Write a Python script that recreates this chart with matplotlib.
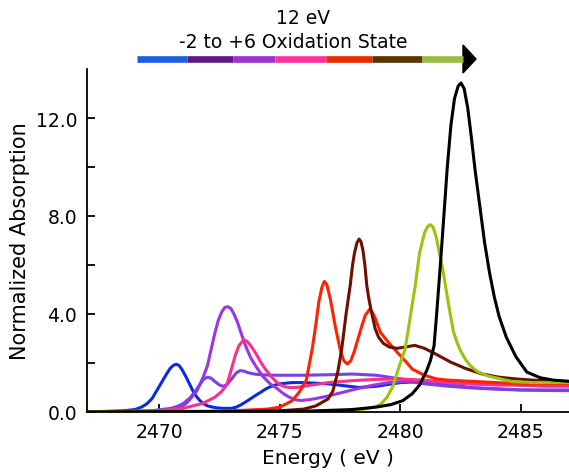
import numpy as np
import matplotlib.pyplot as plt
from matplotlib.patches import Polygon
from matplotlib.lines import Line2D

# spectra (energy in eV, normalized absorption)
blue_e = [2467, 2468.5, 2469.0, 2469.3, 2469.5, 2469.7, 2469.85, 2470.0, 2470.15, 2470.3, 2470.45,
          2470.58, 2470.7, 2470.82, 2470.95, 2471.1, 2471.25, 2471.4, 2471.55, 2471.7, 2471.85,
          2472.0, 2472.3, 2472.6, 2473.0, 2473.2, 2473.4, 2473.6, 2473.8, 2474.0, 2474.2, 2474.4,
          2474.6, 2474.8, 2475.0, 2475.5, 2476.0, 2477.0, 2478.3, 2479.0, 2480.0, 2481.0, 2482.0,
          2483.0, 2484.0, 2485.0, 2486.0, 2487.0]
blue_v = [0.0, 0.05, 0.1, 0.22, 0.35, 0.55, 0.8, 1.05, 1.3, 1.55, 1.78,
          1.9, 1.95, 1.9, 1.72, 1.45, 1.15, 0.85, 0.62, 0.45, 0.33,
          0.25, 0.18, 0.15, 0.15, 0.2, 0.3, 0.42, 0.55, 0.68, 0.8, 0.93,
          1.03, 1.1, 1.15, 1.2, 1.2, 1.15, 1.0, 1.05, 1.2, 1.25, 1.2,
          1.15, 1.15, 1.1, 1.1, 1.1]

purple_e = [2467, 2469, 2470, 2470.5, 2470.9, 2471.15, 2471.4, 2471.55, 2471.7, 2471.85, 2472.0,
            2472.15, 2472.3, 2472.45, 2472.6, 2472.72, 2472.85, 2472.97, 2473.1, 2473.25, 2473.4,
            2473.6, 2473.8, 2474.05, 2474.3, 2474.6, 2474.9, 2475.15, 2475.4, 2475.65, 2475.9,
            2476.2, 2476.5, 2477.0, 2477.4, 2478.0, 2478.75, 2479.5, 2480.3, 2481, 2482, 2483,
            2484, 2485, 2486, 2487]
purple_v = [0.0, 0.03, 0.06, 0.1, 0.2, 0.38, 0.67, 0.85, 1.15, 1.5, 1.9,
            2.55, 3.2, 3.75, 4.1, 4.27, 4.3, 4.22, 4.0, 3.65, 3.2,
            2.65, 2.2, 1.8, 1.45, 1.15, 0.95, 0.75, 0.6, 0.5, 0.47,
            0.5, 0.55, 0.65, 0.75, 0.9, 1.07, 1.2, 1.25, 1.15, 1.05, 0.98,
            0.93, 0.9, 0.88, 0.87]

violet_e = [2467, 2469.5, 2470.5, 2470.8, 2471.0, 2471.25, 2471.5, 2471.7, 2471.85, 2472.0, 2472.15,
            2472.3, 2472.5, 2472.65, 2472.8, 2473.0, 2473.2, 2473.35, 2473.5, 2473.7, 2474.0,
            2474.4, 2475, 2476, 2477, 2478, 2479, 2480, 2481, 2482, 2483, 2484, 2485, 2486, 2487]
violet_v = [0.0, 0.03, 0.15, 0.25, 0.35, 0.55, 0.85, 1.15, 1.35, 1.42, 1.38,
            1.25, 1.1, 1.05, 1.12, 1.35, 1.6, 1.69, 1.67, 1.6, 1.54,
            1.51, 1.5, 1.5, 1.52, 1.55, 1.5, 1.35, 1.2, 1.1, 1.0, 0.95, 0.9, 0.9, 0.9]

pink_e = [2467, 2470, 2471, 2471.8, 2472.3, 2472.55, 2472.8, 2472.95, 2473.15, 2473.3, 2473.5,
          2473.65, 2473.8, 2474.0, 2474.2, 2474.4, 2474.6, 2474.8, 2475.0, 2475.2, 2475.4,
          2475.7, 2476, 2477, 2478, 2479, 2480, 2481, 2482, 2483, 2484, 2485, 2486, 2487]
pink_v = [0.0, 0.05, 0.15, 0.35, 0.6, 0.8, 1.1, 1.6, 2.3, 2.7, 2.95,
          2.88, 2.7, 2.4, 2.05, 1.75, 1.5, 1.28, 1.12, 1.03, 1.0,
          1.0, 1.05, 1.2, 1.28, 1.33, 1.35, 1.3, 1.2, 1.15, 1.1, 1.1, 1.05, 1.05]

red_e = [2467, 2472, 2473.5, 2474.5, 2475.0, 2475.5, 2475.8, 2476.1, 2476.35, 2476.5, 2476.62,
         2476.75, 2476.85, 2476.95, 2477.1, 2477.3, 2477.5, 2477.65, 2477.8, 2477.95, 2478.1,
         2478.25, 2478.4, 2478.55, 2478.73, 2478.85, 2478.95, 2479.17, 2479.45, 2479.86, 2480.1,
         2480.5, 2481, 2481.5, 2482, 2483, 2484, 2485, 2486, 2487]
red_v = [0.0, 0.03, 0.07, 0.12, 0.2, 0.45, 0.8, 1.3, 2.6, 3.6, 4.5,
         5.1, 5.33, 5.2, 4.6, 3.5, 2.57, 2.1, 1.96, 2.1, 2.5,
         3.0, 3.5, 3.95, 4.2, 4.05, 3.85, 3.26, 2.91, 2.45, 2.2,
         1.75, 1.5, 1.35, 1.3, 1.25, 1.2, 1.15, 1.15, 1.15]

maroon_e = [2467, 2473, 2475, 2476.0, 2476.5, 2477.0, 2477.2, 2477.4, 2477.57, 2477.75, 2477.92,
            2478.02, 2478.1, 2478.2, 2478.29, 2478.37, 2478.45, 2478.53, 2478.61, 2478.7, 2478.8,
            2478.96, 2479.1, 2479.3, 2479.55, 2479.86, 2480.2, 2480.6, 2481.0, 2481.5, 2482.1,
            2482.7, 2483.4, 2484.1, 2484.8, 2485.5, 2486.2, 2487]
maroon_v = [0.0, 0.02, 0.05, 0.12, 0.25, 0.53, 0.85, 1.6, 2.57, 4.0, 5.16,
            6.0, 6.5, 6.9, 7.06, 6.95, 6.6, 6.0, 5.16, 4.6, 4.1,
            3.39, 3.05, 2.8, 2.65, 2.6, 2.65, 2.72, 2.6, 2.35, 2.03,
            1.78, 1.55, 1.42, 1.35, 1.3, 1.27, 1.25]

green_e = [2467, 2474, 2476, 2477, 2477.8, 2478.5, 2479.0, 2479.2, 2479.45, 2479.7, 2479.9,
           2480.2, 2480.4, 2480.62, 2480.8, 2481.0, 2481.12, 2481.24, 2481.36, 2481.5, 2481.62,
           2481.75, 2481.9, 2482.0, 2482.2, 2482.35, 2482.5, 2482.7, 2482.9, 2483.2, 2483.6,
           2484.6, 2485.5, 2486.3, 2487]
green_v = [0.0, 0.0, 0.02, 0.03, 0.05, 0.12, 0.22, 0.33, 0.6, 1.07, 1.7,
           2.57, 3.8, 5.16, 6.5, 7.3, 7.55, 7.65, 7.55, 7.1, 6.5,
           5.9, 5.0, 4.4, 3.3, 2.85, 2.5, 2.15, 1.9, 1.65, 1.48,
           1.25, 1.2, 1.2, 1.2]

black_e = [2467, 2476, 2478, 2479, 2479.6, 2480.1, 2480.5, 2480.8, 2481.1, 2481.25, 2481.4,
           2481.5, 2481.66, 2481.8, 2481.95, 2482.1, 2482.25, 2482.4, 2482.52, 2482.65, 2482.8,
           2482.95, 2483.1, 2483.3, 2483.5, 2483.7, 2483.9, 2484.1, 2484.4, 2484.8, 2485.25,
           2485.8, 2486.35, 2487]
black_v = [0.0, 0.03, 0.1, 0.2, 0.3, 0.46, 0.75, 1.1, 1.7, 2.1, 2.7,
           3.9, 5.97, 7.9, 10.0, 11.7, 12.8, 13.3, 13.43, 13.2, 12.4,
           11.2, 9.9, 8.4, 6.9, 5.7, 4.7, 3.9, 3.05, 2.25, 1.63,
           1.4, 1.3, 1.25]

scale_colors = ['#1a5fe0', '#5e1a82', '#9933cc', '#ff3399', '#e62e00', '#5a3300', '#99bb44']

font = 'DejaVu Sans'
fs = 13.5

fig = plt.figure(figsize=(5.69, 4.77), dpi=100)
ax = fig.add_axes([87 / 569, 1 - 413 / 477, 1 - 87 / 569, (413 - 70) / 477])

kw = dict(lw=2.2, solid_joinstyle='round', solid_capstyle='round')
ax.plot(blue_e, blue_v, color='#0a2be0', **kw)
ax.plot(purple_e, purple_v, color='#9b36e0', **kw)
ax.plot(violet_e, violet_v, color='#7a3fe6', **kw)
ax.plot(pink_e, pink_v, color='#f8318a', **kw)
ax.plot(red_e, red_v, color='#ff2200', **kw)
ax.plot(maroon_e, maroon_v, color='#6e0f00', **kw)
ax.plot(green_e, green_v, color='#99c40f', **kw)
ax.plot(black_e, black_v, color='black', **kw)

ax.set_xlim(2467, 2487)
ax.set_ylim(0, 14)
ax.set_xticks([2470, 2475, 2480, 2485])
ax.set_yticks([0, 4, 8, 12])
ax.set_yticklabels(['0.0', '4.0', '8.0', '12.0'])
ax.set_yticks([2, 6, 10], minor=True)
ax.tick_params(which='both', direction='in', length=6, width=1.3, labelsize=fs, pad=7)
for lab in ax.get_xticklabels() + ax.get_yticklabels():
    lab.set_family(font)
for s in ['top', 'right']:
    ax.spines[s].set_visible(False)
for s in ['left', 'bottom']:
    ax.spines[s].set_linewidth(1.3)

ax.set_xlabel('Energy ( eV )', fontsize=14.5, family=font, labelpad=5)
ax.set_ylabel('Normalized Absorption', fontsize=15, family=font, labelpad=4)

# oxidation-state colour arrow at the top
bounds = [137, 187, 233, 275, 326, 372, 422, 463]
ya = 1 - 60 / 477
for i, c in enumerate(scale_colors):
    fig.add_artist(Line2D([bounds[i] / 569, bounds[i + 1] / 569], [ya, ya], color=c,
                          lw=4.8, solid_capstyle='butt'))
fig.add_artist(Polygon([[463 / 569, 1 - 46 / 477], [476 / 569, ya], [463 / 569, 1 - 74 / 477]],
                       closed=True, color='black', transform=fig.transFigure))
fig.text(303 / 569, 1 - 19 / 477, '12 eV', ha='center', va='center', fontsize=fs, family=font)
fig.text(293 / 569, 1 - 43 / 477, '-2 to +6 Oxidation State', ha='center', va='center',
         fontsize=fs, family=font)

fig.savefig('out.png', dpi=100)
